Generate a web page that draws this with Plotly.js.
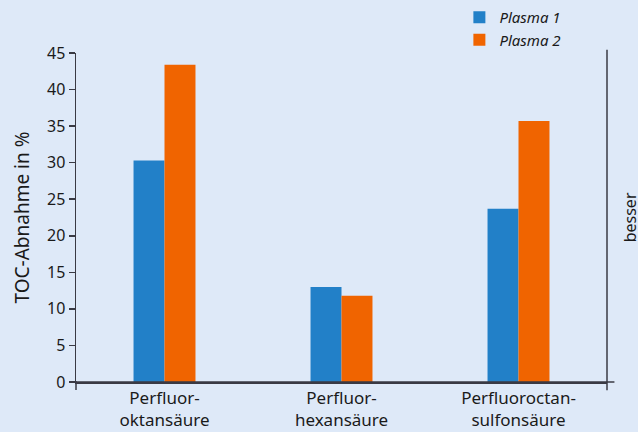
<!DOCTYPE html>
<html>
<head>
<meta charset="utf-8">
<script src="https://cdn.plot.ly/plotly-3.0.1.min.js"></script>
<style>html,body{margin:0;padding:0;background:#dee9f8;}#chart{width:638px;height:432px;}</style>
</head>
<body>
<div id="chart"></div>
<script>
const categories = ["Perfluor-<br>oktansäure", "Perfluor-<br>hexansäure", "Perfluoroctan-<br>sulfonsäure"];
const plasma1 = [30.3, 13.0, 23.7];
const plasma2 = [43.4, 11.8, 35.7];
const seriesNames = ["Plasma 1", "Plasma 2"];
const yTicks = [0, 5, 10, 15, 20, 25, 30, 35, 40, 45];

const bg = "#dee9f8";
const lineCol = "#3a3a44";
const font = "Noto Sans, Open Sans, sans-serif";

const traces = [
  {type: "bar", x: categories, y: plasma1, name: seriesNames[0], marker: {color: "#2280c8", line: {width: 0}}},
  {type: "bar", x: categories, y: plasma2, name: seriesNames[1], marker: {color: "#f06400", line: {width: 0}}}
];

const layout = {
  width: 638, height: 432,
  paper_bgcolor: bg, plot_bgcolor: bg,
  margin: {l: 76, r: 31, t: 53, b: 50, autoexpand: false},
  barmode: "group", bargap: 0.65, bargroupgap: 0,
  font: {family: font, color: "#1a1a1a", size: 15},
  showlegend: true,
  legend: {x: 0.722, y: 1.158, xanchor: "left", yanchor: "top", bgcolor: "rgba(0,0,0,0)",
           font: {family: font, size: 15, style: "italic", color: "#1a1a1a"}, tracegroupgap: 0, itemwidth: 30},
  xaxis: {type: "category", range: [-0.5, 2.5], showgrid: false, zeroline: false, automargin: false,
          showline: true, linecolor: lineCol, linewidth: 1.5, ticks: "",
          tickfont: {family: font, size: 17, color: "#1a1a1a"}, fixedrange: true},
  yaxis: {range: [0, 45], tickvals: yTicks, showgrid: false, zeroline: false, automargin: false,
          showline: true, linecolor: lineCol, linewidth: 1.5, ticks: "outside", ticklen: 6, tickwidth: 1.5, tickcolor: lineCol,
          tickfont: {family: font, size: 16, color: "#1a1a1a"},
          title: {text: "TOC-Abnahme in %", font: {family: font, size: 19, color: "#1a1a1a"}, standoff: 12}},
  shapes: [
    {type: "line", xref: "paper", yref: "paper", x0: 1, x1: 1, y0: -0.025, y1: 1.01, line: {color: lineCol, width: 1.5}},
    {type: "line", xref: "paper", yref: "paper", x0: 0, x1: 1.014, y0: 0, y1: 0, line: {color: lineCol, width: 1.5}},
    {type: "line", xref: "paper", yref: "paper", x0: 0, x1: 0, y0: -0.024, y1: 0.003, line: {color: lineCol, width: 1.5}}
  ],
  annotations: [
    {text: "besser", xref: "paper", yref: "paper", x: 1.043, y: 0.5, xanchor: "center", yanchor: "middle",
     textangle: -90, showarrow: false, font: {family: font, size: 16, color: "#1a1a1a"}}
  ]
};

Plotly.newPlot("chart", traces, layout, {displayModeBar: false, staticPlot: true});
</script>
</body>
</html>
